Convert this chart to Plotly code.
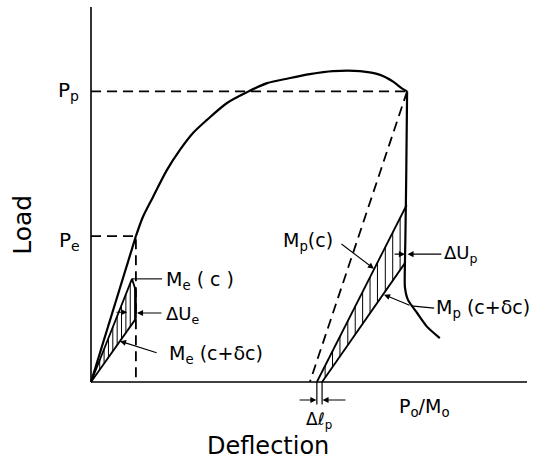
import numpy as np
import plotly.graph_objects as go

# ---------------- data (arbitrary deflection / load units) ----------------
P_P = 77.5      # plastic collapse load level  P_p
P_E = 38.9      # elastic limit load           P_e
D_E = 10.3      # deflection at P_e
D_P = 72.5      # deflection at P_p corner

# elastic loading branch
elastic_x = [0.0, 10.3]
elastic_y = [0.0, 38.9]

# nonlinear loading branch (from P_e to the P_p corner)
curve_x = [10.3, 11.9, 14.2, 17.4, 20.4, 23.4, 26.6, 31.2, 35.8, 40.4, 45.4,
           50.2, 55.5, 61.7, 66.3, 69.3, 71.3, 72.5]
curve_y = [38.9, 44.0, 49.3, 56.5, 61.9, 66.4, 69.9, 74.4, 77.3, 79.7, 81.0,
           82.1, 82.9, 82.9, 81.9, 80.1, 78.3, 77.5]

# post-peak drop
drop_x = [72.5, 72.3, 72.1, 72.0, 72.0, 72.7, 74.8, 77.1, 80.0]
drop_y = [77.5, 55.0, 38.0, 31.7, 25.3, 21.9, 18.4, 14.7, 11.7]

# elastic compliance lines M_e(c) and M_e(c+dc)
me_c_x = [0.0, 9.4, 10.3, 10.3]
me_c_y = [0.0, 27.5, 24.3, 16.9]
me_cd_x = [0.0, 10.3]
me_cd_y = [0.0, 16.9]

# plastic unloading lines M_p(c), M_p(c+dc) and dashed secant
mp_c_x = [72.4, 51.8]
mp_c_y = [47.2, 0.0]
mp_cd_x = [72.0, 53.0]
mp_cd_y = [31.7, 0.0]
mp_sec_x = [72.5, 50.2]
mp_sec_y = [77.5, 0.0]

# hatch positions
hatch_e_x = [2.0, 3.0, 4.0, 5.0, 6.0, 7.0, 8.0, 9.0, 10.0]
hatch_p_x = [53.7, 55.4, 57.1, 58.9, 60.6, 62.3, 64.0, 65.7, 67.5, 69.2, 70.9]

AXIS_LEN_X = 100.0
AXIS_LEN_Y = 100.0

FONT = "DejaVu Sans"
BLACK = "black"

fig = go.Figure()


def line(x, y, width=2.0, dash=None, shape="linear", smoothing=None):
    ln = dict(color=BLACK, width=width, shape=shape)
    if dash:
        ln["dash"] = dash
    if smoothing is not None:
        ln["smoothing"] = smoothing
    fig.add_trace(go.Scatter(x=x, y=y, mode="lines", line=ln,
                             hoverinfo="skip", showlegend=False))


# axes
line([0, 0], [0, AXIS_LEN_Y], width=1.6)
line([0, AXIS_LEN_X], [0, 0], width=1.6)

# dashed guides
line([0, D_P], [P_P, P_P], width=1.8, dash="10px,6px")
line([0, D_E, D_E], [P_E, P_E, 0], width=1.8, dash="10px,6px")
line(mp_sec_x, mp_sec_y, width=1.8, dash="10px,6px")

# load curve
line(elastic_x, elastic_y, width=2.2)
line(curve_x, curve_y, width=2.2, shape="spline", smoothing=0.8)
line(drop_x, drop_y, width=2.2, shape="spline", smoothing=0.6)

# compliance lines
line(me_c_x, me_c_y, width=1.8)
line(me_cd_x, me_cd_y, width=1.8)
line(mp_c_x, mp_c_y, width=1.8)
line(mp_cd_x, mp_cd_y, width=1.8)

# hatching (vertical lines between the two compliance lines)
hx, hy = [], []
me_up_x = me_c_x[:3]
me_up_y = me_c_y[:3]
for x in hatch_e_x:
    lo = np.interp(x, me_cd_x, me_cd_y)
    hi = np.interp(x, me_up_x, me_up_y)
    hx += [x, x, None]
    hy += [lo, hi, None]
for x in hatch_p_x:
    lo = np.interp(x, mp_cd_x[::-1], mp_cd_y[::-1])
    hi = np.interp(x, mp_c_x[::-1], mp_c_y[::-1])
    hx += [x, x, None]
    hy += [lo, hi, None]
line(hx, hy, width=1.0)

# delta l_p extension ticks below x axis
line([51.8, 51.8, None, 53.0, 53.0], [0, -6.0, None, 0, -6.0], width=1.2)

# leader lines without arrowheads
line([16.3, 9.4], [27.5, 27.5], width=1.1)
line([78.7, 73.4], [19.7, 20.3], width=1.1)

annotations = []


def arrow(hx_, hy_, tx, ty):
    annotations.append(dict(x=hx_, y=hy_, ax=tx, ay=ty, xref="x", yref="y",
                            axref="x", ayref="y", text="", showarrow=True,
                            arrowhead=2, arrowsize=1.1, arrowwidth=1.1,
                            arrowcolor=BLACK, standoff=0, startstandoff=0))


arrow(10.55, 18.4, 16.5, 18.4)      # dU_e from right
arrow(8.3, 18.6, 5.5, 18.6)         # dU_e from left
arrow(6.65, 10.9, 15.4, 7.7)        # M_e(c+dc)
arrow(64.9, 30.2, 57.1, 37.1)       # M_p(c)
arrow(72.6, 34.1, 80.7, 34.1)       # dU_p from right
arrow(72.0, 34.1, 69.3, 34.1)       # dU_p from left
arrow(67.2, 23.3, 73.4, 20.3)       # M_p(c+dc)
arrow(51.7, -4.8, 47.5, -4.8)       # dl_p left
arrow(53.1, -4.8, 58.7, -4.8)       # dl_p right


def label(x, y, text, size=19, xanchor="left", angle=0):
    annotations.append(dict(x=x, y=y, xref="x", yref="y", text=text,
                            showarrow=False, xanchor=xanchor, yanchor="middle",
                            textangle=angle,
                            font=dict(family=FONT, size=size, color=BLACK)))


label(-2.3, 77.6, "P<sub>p</sub>", size=20, xanchor="right")
label(-2.0, 37.6, "P<sub>e</sub>", size=20, xanchor="right")
label(-15.6, 41.9, "Load", size=25, xanchor="center", angle=-90)
label(40.6, -17.0, "Deflection", size=24, xanchor="center")
label(70.2, -6.7, "P<sub>o</sub>/M<sub>o</sub>", size=19)
label(48.9, -10.3, "Δℓ<sub>p</sub>", size=17)
label(16.8, 27.0, "M<sub>e</sub> ( c )", size=19)
label(16.8, 17.8, "ΔU<sub>e</sub>", size=18)
label(17.4, 7.3, "M<sub>e</sub> (c+δc)", size=19)
label(43.6, 37.6, "M<sub>p</sub>(c)", size=19)
label(80.5, 34.1, "ΔU<sub>p</sub>", size=18)
label(78.7, 19.7, "M<sub>p</sub> (c+δc)", size=19)

X0 = -91 / 4.36
X1 = (555 - 91) / 4.36
Y0 = (382 - 470) / 3.75
Y1 = 382 / 3.75

fig.update_layout(
    width=555, height=470,
    margin=dict(l=0, r=0, t=0, b=0),
    paper_bgcolor="white", plot_bgcolor="white",
    showlegend=False,
    xaxis=dict(range=[X0, X1], visible=False, fixedrange=True),
    yaxis=dict(range=[Y0, Y1], visible=False, fixedrange=True),
    annotations=annotations,
)

fig.write_html("out.html")
